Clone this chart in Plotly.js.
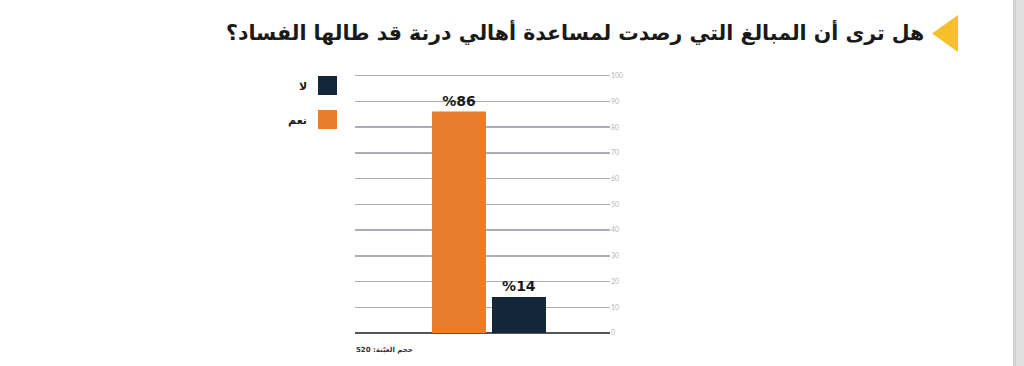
<!DOCTYPE html>
<html><head><meta charset="utf-8">
<script src="https://cdn.plot.ly/plotly-3.0.1.min.js"></script>
<style>html,body{margin:0;padding:0;background:#fff;}#chart{width:1024px;height:366px;}</style>
</head><body><div id="chart"></div>
<script>
const categories = ['نعم', 'لا'];
const values = [86, 14];
const colors = ['#E87D2C', '#13263A'];
const legendOrder = [1, 0];
const yTicks = [0, 10, 20, 30, 40, 50, 60, 70, 80, 90, 100];
const titleText = 'هل ترى أن المبالغ التي رصدت لمساعدة أهالي درنة قد طالها الفساد؟';
const footerText = 'حجم العيّنة: 520';

const W = 1024, H = 366;
const M = {l: 355, r: 414, t: 73, b: 33};
const PW = W - M.l - M.r, PH = H - M.t - M.b;
const px = x => (x - M.l) / PW;
const py = y => (H - M.b - y) / PH;

const traces = categories.map((c, i) => ({
  type: 'bar', x: [c], y: [values[i]], name: c,
  marker: {color: colors[i]}, width: 0.9,
  text: ['%' + values[i]], textposition: 'outside', cliponaxis: false,
  textfont: {family: 'DejaVu Sans', size: 14, color: '#1a1a1a', weight: 'bold'},
  hoverinfo: 'skip', showlegend: false
}));

const shapes = [
  {type: 'rect', xref: 'paper', yref: 'paper', x0: px(1013), x1: px(1024), y0: py(366), y1: py(0), fillcolor: '#e0e0e0', line: {width: 0}, layer: 'below'},
  {type: 'rect', xref: 'paper', yref: 'paper', x0: px(1013), x1: px(1016), y0: py(366), y1: py(0), fillcolor: '#d2d2d2', line: {width: 0}, layer: 'below'},
  {type: 'path', xref: 'paper', yref: 'paper',
   path: `M ${px(958)} ${py(15)} L ${px(958)} ${py(52)} L ${px(932)} ${py(33.5)} Z`,
   fillcolor: '#F5C02A', line: {width: 0}}
];
const annotations = [
  {xref: 'paper', yref: 'paper', x: px(926), y: py(32), xanchor: 'right', yanchor: 'middle',
   text: titleText, showarrow: false,
   font: {family: 'DejaVu Sans', size: 20.5, color: '#1a1a1a', weight: 'bold'}},
  {xref: 'paper', yref: 'paper', x: px(354), y: py(350), xanchor: 'left', yanchor: 'middle',
   text: '\u202B' + footerText + '\u202C', showarrow: false,
   font: {family: 'DejaVu Sans', size: 7, color: '#333', weight: 'bold'}}
];
legendOrder.forEach((idx, k) => {
  const top = 76 + k * 34;
  shapes.push({type: 'rect', xref: 'paper', yref: 'paper',
    x0: px(318), x1: px(337), y0: py(top + 19), y1: py(top),
    fillcolor: colors[idx], line: {width: 0}});
  annotations.push({xref: 'paper', yref: 'paper', x: px(309), y: py(top + 10),
    xanchor: 'right', yanchor: 'middle', text: categories[idx], showarrow: false,
    font: {family: 'DejaVu Sans', size: 11, color: '#1a1a1a', weight: 'bold'}});
});

const layout = {
  width: W, height: H, margin: M,
  paper_bgcolor: '#fff', plot_bgcolor: '#fff',
  barmode: 'overlay', showlegend: false,
  xaxis: {type: 'category', categoryorder: 'array', categoryarray: categories,
    range: [-1.733, 2.517], showticklabels: false, showgrid: false, zeroline: false, ticks: ''},
  yaxis: {side: 'right', range: [0, 101], tickvals: yTicks, ticktext: yTicks.map(String),
    showgrid: true, gridcolor: '#adadb5', gridwidth: 1.5,
    zeroline: true, zerolinecolor: '#555', zerolinewidth: 2,
    tickfont: {family: 'Lato', size: 7, color: '#b5b5b5'}, ticks: '', ticklen: 0,
    showline: false},
  shapes: shapes, annotations: annotations
};
Plotly.newPlot('chart', traces, layout, {displayModeBar: false, staticPlot: true});
</script></body></html>
